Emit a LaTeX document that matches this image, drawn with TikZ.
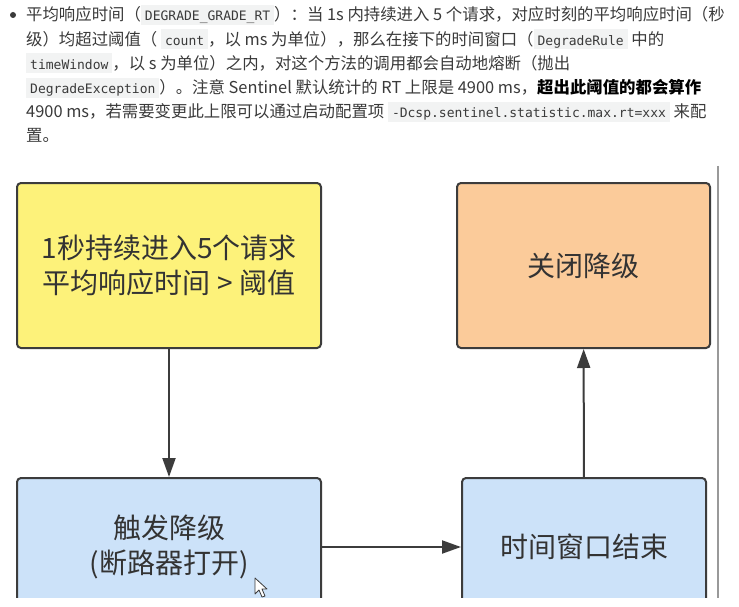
\documentclass[tikz,border=0pt]{standalone}
\usepackage{fontspec}
\setmainfont{Noto Sans CJK SC}
\newfontfamily\codefont{DejaVu Sans Mono}
\usetikzlibrary{arrows.meta,positioning}

\definecolor{txt}{HTML}{3A3A3A}
\definecolor{codebg}{HTML}{F2F3F3}
\definecolor{boxline}{HTML}{3C3C3C}
\definecolor{boxtext}{HTML}{333333}
\definecolor{yellowfill}{HTML}{FDF27A}
\definecolor{orangefill}{HTML}{FBCB9A}
\definecolor{bluefill}{HTML}{CCE2F9}

% inline code as on the web page
\newcommand\code[1]{{\setlength\fboxsep{0pt}\colorbox{codebg}{%
	\rule[-4pt]{0pt}{20pt}\hspace{4pt}{\codefont\fontsize{13}{14}\selectfont #1}\hspace{4pt}}}}

\tikzset{
		>={Triangle[length=19pt,width=13pt]},
		box/.style={
			rectangle,
			rounded corners=4pt,
			draw=boxline, line width=2pt,
			text=boxtext,
			font=\fontsize{28}{35}\selectfont,
			align=center,
			inner sep=0pt},
		line/.style={draw=boxline, line width=2pt},
		textline/.style={anchor=base west, inner sep=0pt, text=txt,
			font=\fontsize{16.4}{24}\selectfont},
	}

\begin{document}
\begin{tikzpicture}[x=1pt,y=-1pt]
			\useasboundingbox[fill=white] (0,0) rectangle (739,607);
			
			% text above the picture
			\node[circle, fill=txt, inner sep=0pt, minimum size=6pt] (bullet) at (13,15) {};
			\node[textline] (l1) at (26,21) {平均响应时间（\code{DEGRADE\_GRADE\_RT}）：当 1s 内持续进入 5 个请求，对应时刻的平均响应时间（秒};
			\node[textline] (l2) at (26,45.5) {级）均超过阈值（ \code{count}，以 ms 为单位），那么在接下的时间窗口（\code{DegradeRule} 中的};
			\node[textline] (l3) at (26,69.5) {\code{timeWindow}，以 s 为单位）之内，对这个方法的调用都会自动地熔断（抛出};
			\node[textline] (l4) at (26,94) {\code{DegradeException}）。注意 Sentinel 默认统计的 RT 上限是 4900 ms，{\bfseries\color{black}超出此阈值的都会算作}};
			\node[textline] (l5) at (26,118) {4900 ms，若需要变更此上限可以通过启动配置项 \code{-Dcsp.sentinel.statistic.max.rt=xxx} 来配};
			\node[textline] (l6) at (26,142) {置。};
			
			\begin{scope}
			\clip (0,0) rectangle (739,597);
			\node[box, fill=yellowfill, minimum width=304pt, minimum height=165pt] (cond) at (169,265.5) {1秒持续进入5个请求\\平均响应时间 > 阈值};
			\node[box, fill=orangefill, minimum width=253pt, minimum height=165pt] (close) at (583.5,265.5) {关闭降级};
			\node[box, fill=bluefill, minimum width=304pt, minimum height=138pt] (open) at (169,547) {触发降级\\(断路器打开)};
			\node[box, fill=bluefill, minimum width=244pt, minimum height=138pt] (window) at (584,547) {时间窗口结束};
			
			\draw[line, ->] (cond) -- (open);
			\draw[line, ->] (open) -- (window);
			\draw[line, ->] (window) -- (close);
			
			% edge of the next panel
			\draw[gray!80, line width=1.5pt] (718,166) -- (718,607);
			
			% mouse pointer
			\draw[boxline, fill=white, line width=0.8pt, line join=round]
				(255,578) -- (255,594) -- (259,590) -- (262,597) -- (265,596)
				-- (262,589) -- (267,589) -- cycle;
			\end{scope}
\end{tikzpicture}
\end{document}
